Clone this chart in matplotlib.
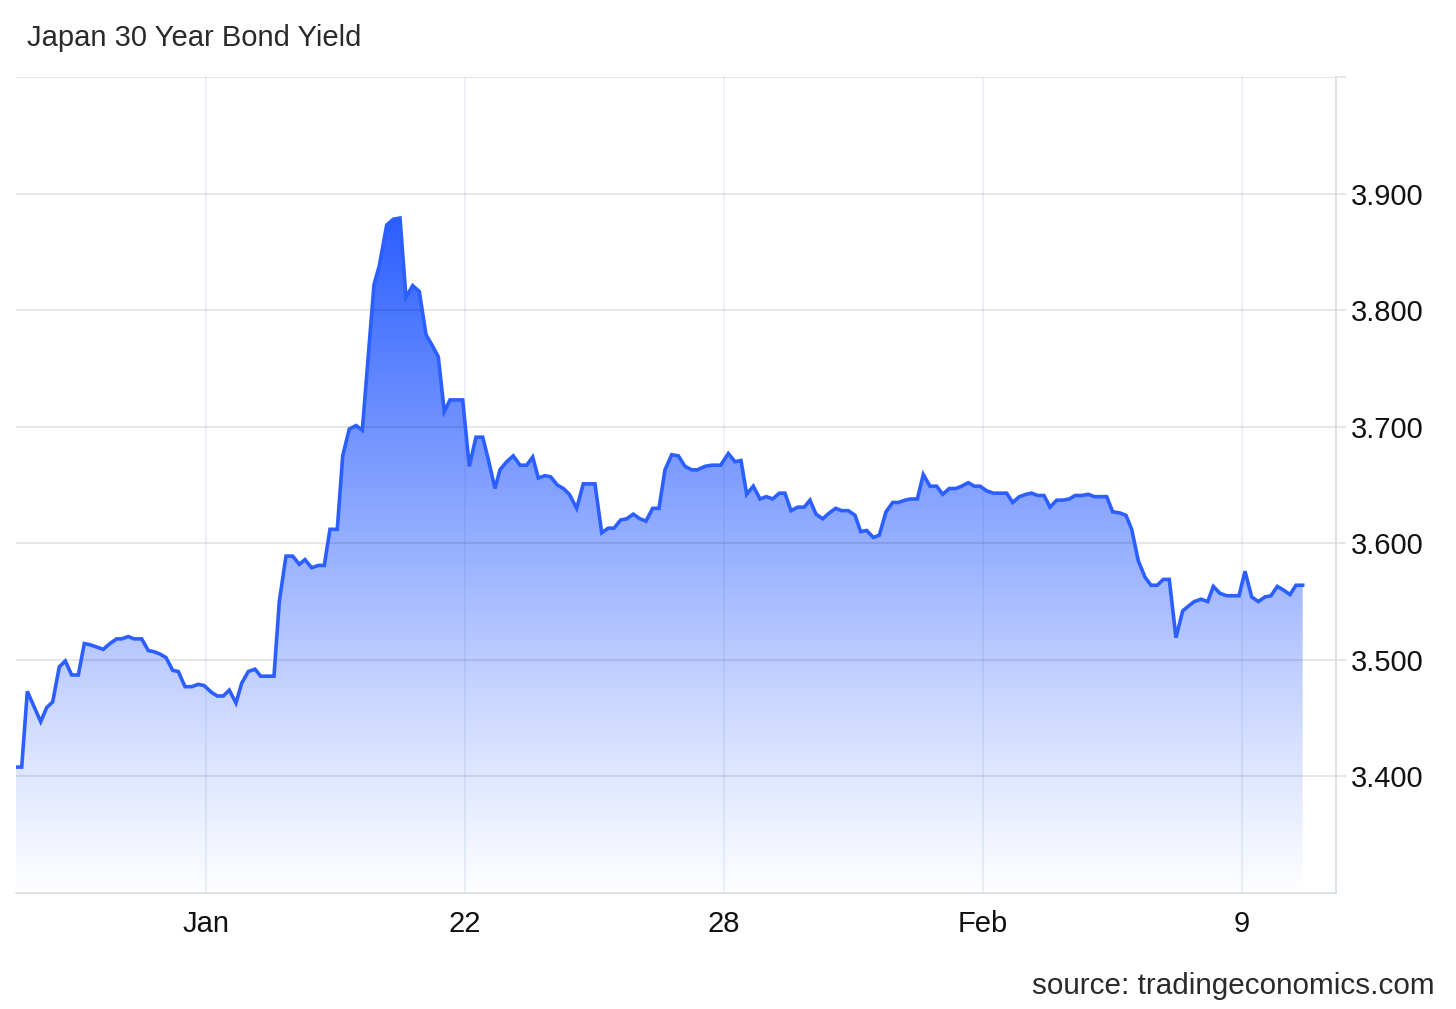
import numpy as np
import matplotlib
matplotlib.use("Agg")
import matplotlib.pyplot as plt
from matplotlib.colors import LinearSegmentedColormap
from matplotlib.patches import Polygon

plt.rcParams['font.family'] = ['Liberation Sans', 'DejaVu Sans']

title = "Japan 30 Year Bond Yield"
source = "source: tradingeconomics.com"

# x in days relative to the "Jan" tick
days = [-4.401, -4.269, -4.139, -3.829, -3.690, -3.551, -3.398, -3.259, -3.111, -2.958,
        -2.819, -2.687, -2.379, -2.224, -2.069, -1.953, -1.800, -1.668, -1.489, -1.337,
        -1.205, -1.066, -0.927, -0.771, -0.642, -0.486, -0.331, -0.178, -0.046, 0.132,
        0.262, 0.401, 0.540, 0.695, 0.827, 0.980, 1.135, 1.267, 1.575, 1.698,
        1.853, 2.008, 2.161, 2.293, 2.448, 2.601, 2.740, 2.872, 3.041, 3.167,
        3.319, 3.475, 3.621, 3.892, 4.014, 4.186, 4.339, 4.494, 4.633, 4.788,
        4.941, 5.096, 5.251, 5.381, 5.520, 5.652, 5.946, 6.099, 6.254, 6.410,
        6.539, 6.694, 6.810, 6.965, 7.118, 7.274, 7.429, 7.568, 7.698, 7.853,
        7.985, 8.138, 8.277, 8.416, 8.587, 8.740, 9.011, 9.166, 9.319, 9.451,
        9.606, 9.745, 9.898, 10.053, 10.192, 10.347, 10.493, 10.632, 10.788, 10.941,
        11.096, 11.251, 11.381, 11.559, 11.714, 11.923, 12.099, 12.254, 12.393, 12.525,
        12.678, 12.833, 12.979, 13.127, 13.280, 13.412, 13.551, 13.706, 13.859, 13.991,
        14.130, 14.286, 14.438, 14.587, 14.726, 14.878, 15.034, 15.166, 15.305, 15.458,
        15.597, 15.752, 15.907, 16.037, 16.192, 16.324, 16.477, 16.616, 16.771, 16.926,
        17.065, 17.218, 17.373, 17.505, 17.658, 17.797, 17.929, 18.084, 18.237, 18.392,
        18.548, 18.687, 18.840, 18.995, 19.127, 19.266, 19.412, 19.551, 19.706, 19.845,
        19.998, 20.130, 20.285, 20.438, 20.577, 20.732, 20.864, 21.003, 21.172, 21.311,
        21.443, 21.596, 21.751, 21.890, 22.036, 22.175, 22.314, 22.469, 22.624, 22.754,
        22.893, 23.049, 23.204, 23.334, 23.489, 23.644, 23.783, 23.929, 24.068, 24.223,
        24.376, 24.531, 24.670, 24.816, 24.955, 25.110, 25.249, 25.404]

yields = [3.408, 3.408, 3.473, 3.447, 3.459, 3.464, 3.494, 3.499, 3.487, 3.487,
          3.514, 3.513, 3.509, 3.514, 3.518, 3.518, 3.520, 3.518, 3.518, 3.508,
          3.507, 3.505, 3.502, 3.491, 3.490, 3.477, 3.477, 3.479, 3.478, 3.472,
          3.469, 3.469, 3.474, 3.463, 3.480, 3.490, 3.492, 3.486, 3.486, 3.550,
          3.589, 3.589, 3.582, 3.586, 3.579, 3.581, 3.581, 3.612, 3.612, 3.675,
          3.698, 3.701, 3.697, 3.822, 3.838, 3.873, 3.878, 3.879, 3.811, 3.821,
          3.816, 3.779, 3.769, 3.760, 3.713, 3.723, 3.723, 3.666, 3.691, 3.691,
          3.672, 3.647, 3.663, 3.670, 3.675, 3.667, 3.667, 3.674, 3.656, 3.658,
          3.657, 3.650, 3.647, 3.642, 3.630, 3.651, 3.651, 3.609, 3.613, 3.613,
          3.620, 3.621, 3.625, 3.621, 3.619, 3.630, 3.630, 3.663, 3.676, 3.675,
          3.666, 3.663, 3.663, 3.666, 3.667, 3.667, 3.677, 3.670, 3.671, 3.642,
          3.649, 3.638, 3.640, 3.638, 3.643, 3.643, 3.628, 3.631, 3.631, 3.637,
          3.625, 3.621, 3.626, 3.630, 3.628, 3.628, 3.624, 3.610, 3.611, 3.605,
          3.607, 3.627, 3.635, 3.635, 3.637, 3.638, 3.638, 3.659, 3.649, 3.649,
          3.642, 3.647, 3.647, 3.649, 3.652, 3.649, 3.649, 3.645, 3.643, 3.643,
          3.643, 3.635, 3.640, 3.642, 3.643, 3.641, 3.641, 3.631, 3.637, 3.637,
          3.638, 3.641, 3.641, 3.642, 3.640, 3.640, 3.640, 3.627, 3.626, 3.624,
          3.612, 3.585, 3.571, 3.564, 3.564, 3.569, 3.569, 3.519, 3.542, 3.546,
          3.550, 3.552, 3.550, 3.563, 3.557, 3.555, 3.555, 3.555, 3.576, 3.554,
          3.550, 3.554, 3.555, 3.563, 3.560, 3.556, 3.564, 3.564]

x_ticks = [0, 6, 12, 18, 24]
x_labels = ["Jan", "22", "28", "Feb", "9"]
y_ticks = [3.4, 3.5, 3.6, 3.7, 3.8, 3.9, 4.0]
y_labels = ["3.400", "3.500", "3.600", "3.700", "3.800", "3.900", ""]

W, H = 1456, 1009
fig = plt.figure(figsize=(W / 100, H / 100), dpi=100)
ax = fig.add_axes([16 / W, 1 - 893 / H, (1336 - 16) / W, (893 - 77) / H])

xlo, xhi = -4.401, 26.176
ylo, yhi = 3.3, 4.0
ax.set_xlim(xlo, xhi)
ax.set_ylim(ylo, yhi)

x = np.array(days)
y = np.array(yields)

# gradient fill under the line
cmap = LinearSegmentedColormap.from_list(
    "fillgrad", [(0.0, "#ffffff"), (0.25, "#d1dcff"), (1.0, "#2c5fff")])
grad = np.linspace(0, 1, 256).reshape(-1, 1)
top_val = y.max()
img = ax.imshow(grad, extent=[x[0], x[-1], ylo, top_val], origin="lower",
                aspect="auto", cmap=cmap, zorder=1, interpolation="bicubic")
verts = np.vstack([np.column_stack([x, y]), [[x[-1], ylo], [x[0], ylo]]])
poly = Polygon(verts, closed=True, facecolor="none", edgecolor="none")
ax.add_patch(poly)
img.set_clip_path(poly)
ax.set_xlim(xlo, xhi)
ax.set_ylim(ylo, yhi)

ax.plot(x, y, color="#2b5fff", linewidth=2.6, zorder=4, solid_joinstyle="miter")

# grid (semi-transparent dark so it reads slightly darker over the fill)
for yt in y_ticks:
    ax.axhline(yt, color="#000000", linewidth=1.1, zorder=2, alpha=0.12)
for xt in x_ticks:
    ax.axvline(xt, color="#2060a0", linewidth=1.1, zorder=2, alpha=0.11)

ax.set_xticks(x_ticks)
ax.set_xticklabels(x_labels)
ax.set_yticks(y_ticks)
ax.set_yticklabels(y_labels)
ax.yaxis.tick_right()
ax.tick_params(axis="x", length=0, pad=12, labelsize=21, labelcolor="#111111")
ax.tick_params(axis="y", length=7, width=1.1, color="#e0e0e0", pad=4,
               labelsize=21, labelcolor="#111111")

for s in ["top", "left"]:
    ax.spines[s].set_visible(False)
ax.spines["right"].set_color("#d3dadf")
ax.spines["right"].set_linewidth(1.1)
ax.spines["bottom"].set_color("#d3dadf")
ax.spines["bottom"].set_linewidth(1.1)

fig.text(27 / W, 1 - 38 / H, title, fontsize=21, color="#2a2a2a",
         ha="left", va="center")
fig.text(1435 / W, 1 - 986 / H, source, fontsize=21.3, color="#2a2a2a",
         ha="right", va="center")

fig.savefig("out.png", dpi=100)
